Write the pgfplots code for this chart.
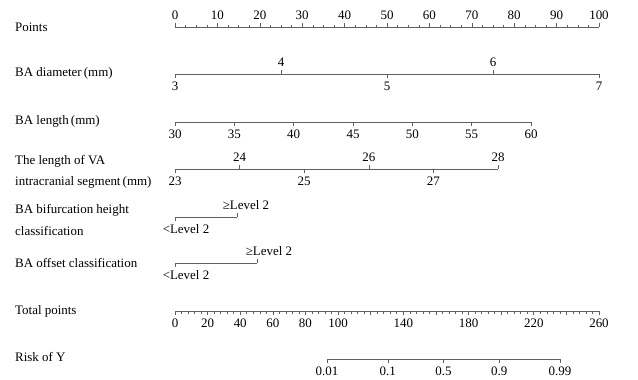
\documentclass[border=0pt]{standalone}
\usepackage{fontspec}
\setmainfont{Liberation Serif}
\usepackage{pgfplots}
\pgfplotsset{compat=1.18}
\definecolor{lg}{HTML}{606060}
\pgfplotsset{
 nomo/.style={scale only axis, height=10bp, ymin=0, ymax=1, axis y line=none, enlargelimits=false,
   x axis line style={draw=lg, line width=0.8bp, -},
   every tick/.append style={draw=lg, line width=0.6bp},
   major tick length=4bp, minor tick length=2.5bp, tick align=outside,
   /pgf/number format/assume math mode=true,
   tick label style={font=\fontsize{13}{15}\selectfont, text=black},
 },
 bot/.style={nomo, anchor=south west, axis x line*=bottom, xtick pos=left, xticklabel pos=left},
 tp/.style={nomo, anchor=north west, axis x line*=top, xtick pos=right, xticklabel pos=right},
}
\begin{document}
\begin{tikzpicture}[font=\fontsize{13}{15}\selectfont]
\path[use as bounding box] (0,0) rectangle (638bp,-380bp);
% left labels
\node[anchor=west,inner sep=0] at (15bp,-27bp) {Points};
\node[anchor=west,inner sep=0] at (15bp,-73bp) {BA diameter\,(mm)};
\node[anchor=west,inner sep=0] at (15bp,-121bp) {BA length\,(mm)};
\node[anchor=west,inner sep=0] at (15bp,-161bp) {The length of VA};
\node[anchor=west,inner sep=0] at (15bp,-182bp) {intracranial segment\,(mm)};
\node[anchor=west,inner sep=0] at (15bp,-210bp) {BA bifurcation height};
\node[anchor=west,inner sep=0] at (15bp,-231bp) {classification};
\node[anchor=west,inner sep=0] at (15bp,-263bp) {BA offset classification};
\node[anchor=west,inner sep=0] at (15bp,-311bp) {Total points};
\node[anchor=west,inner sep=0] at (15bp,-357bp) {Risk of Y};
% Points
\begin{axis}[tp, at={(175bp,-27bp)}, width=424bp, xmin=0, xmax=100,
  xtick={0,10,...,100}, minor tick num=3]
\end{axis}
% BA diameter
\begin{axis}[bot, at={(175bp,-74bp)}, width=424bp, xmin=3, xmax=7, xtick={3,5,7}]
\end{axis}
\begin{axis}[tp, at={(175bp,-74bp)}, width=424bp, xmin=3, xmax=7, xtick={4,6}]
\end{axis}
% BA length
\begin{axis}[bot, at={(175bp,-122bp)}, width=356bp, xmin=30, xmax=60, xtick={30,35,...,60}]
\end{axis}
% VA length
\begin{axis}[bot, at={(175bp,-169bp)}, width=323bp, xmin=23, xmax=28, xtick={23,25,27}]
\end{axis}
\begin{axis}[tp, at={(175bp,-169bp)}, width=323bp, xmin=23, xmax=28, xtick={24,26,28}]
\end{axis}
% BA bifurcation
\begin{axis}[bot, at={(175bp,-217bp)}, width=62bp, xmin=0, xmax=1, xtick={0}, xticklabels={<Level 2},
  xticklabel style={xshift=11bp}]
\end{axis}
\begin{axis}[tp, at={(175bp,-217bp)}, width=62bp, xmin=0, xmax=1, xtick={1}, xticklabels={≥Level 2},
  xticklabel style={xshift=9bp}]
\end{axis}
% BA offset
\begin{axis}[bot, at={(175bp,-263bp)}, width=82bp, xmin=0, xmax=1, xtick={0}, xticklabels={<Level 2},
  xticklabel style={xshift=11bp}]
\end{axis}
\begin{axis}[tp, at={(175bp,-263bp)}, width=82bp, xmin=0, xmax=1, xtick={1}, xticklabels={≥Level 2},
  xticklabel style={xshift=12bp}]
\end{axis}
% Total points
\begin{axis}[bot, at={(175bp,-311bp)}, width=424bp, xmin=0, xmax=260,
  xtick={0,20,...,260}, xticklabels={0,20,40,60,80,100,,140,,180,,220,,260}, minor tick num=4]
\end{axis}
% Risk
\begin{axis}[bot, at={(327bp,-359bp)}, width=233bp, xmin=-4.59512, xmax=4.59512,
  xtick={-4.59512,-2.19722,0,2.19722,4.59512}, xticklabels={0.01,0.1,0.5,0.9,0.99}]
\end{axis}
\end{tikzpicture}
\end{document}
